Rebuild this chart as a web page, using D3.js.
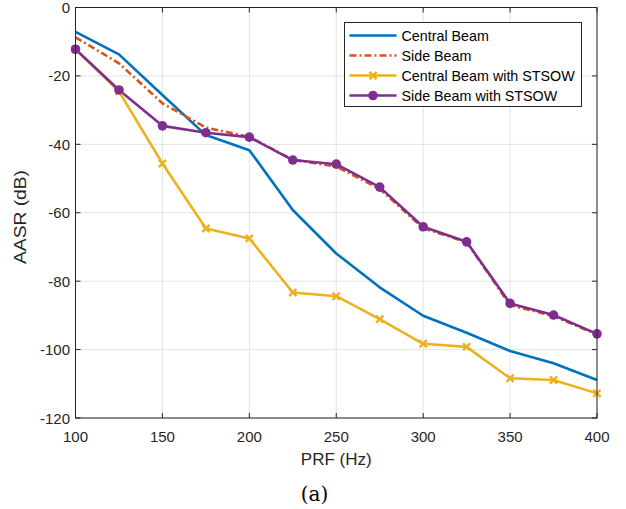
<!DOCTYPE html>
<html>
<head>
<meta charset="utf-8">
<script src="https://cdn.jsdelivr.net/npm/d3@7/dist/d3.min.js"></script>
<style>
  html, body { margin: 0; padding: 0; background: #fff; }
  svg { display: block; }
  .tick-lab { font-family: "Liberation Sans", Arial, sans-serif; font-size: 15px; fill: #262626; }
  .ax-title { font-family: "Liberation Sans", Arial, sans-serif; font-size: 17px; fill: #262626; }
  .leg-text { font-family: "Liberation Sans", Arial, sans-serif; font-size: 14.3px; fill: #000; }
  .caption { font-family: "DejaVu Serif", "Liberation Serif", serif; font-size: 20px; fill: #000; }
</style>
</head>
<body>
<div id="chart"></div>
<script>
/* AASR vs PRF — four beams, MATLAB-style axes */

const PRF = [100, 125, 150, 175, 200, 225, 250, 275, 300, 325, 350, 375, 400];
const CENTRAL = [-7.1, -13.7, -25.6, -37.3, -41.7, -59.2, -71.9, -81.8, -90.1, -95.1, -100.4, -104.0, -108.9];
const SIDE = [-8.7, -16.3, -28.0, -35.1, -37.8, -44.5, -46.5, -53.0, -64.5, -68.6, -87.0, -90.2, -95.6];
const CENTRAL_STSOW = [-12.2, -24.5, -45.6, -64.6, -67.5, -83.3, -84.4, -91.1, -98.3, -99.2, -108.4, -108.9, -112.8];
const SIDE_STSOW = [-12.2, -24.1, -34.6, -36.6, -37.9, -44.6, -45.8, -52.5, -64.1, -68.5, -86.5, -89.9, -95.4];
const SERIES_NAMES = ['Central Beam', 'Side Beam', 'Central Beam with STSOW', 'Side Beam with STSOW'];
const X_TICKS = [100, 150, 200, 250, 300, 350, 400];
const Y_TICKS = [0, -20, -40, -60, -80, -100, -120];

const W = 626, H = 509;
const M = { left: 75.5, right: 29, top: 7.5, bottom: 91 };
const INK = '#262626';
const GRID = '#e3e3e3';

const series = [
  { name: SERIES_NAMES[0], vals: CENTRAL, color: '#0072BD', dash: null, marker: null },
  { name: SERIES_NAMES[1], vals: SIDE, color: '#D95319', dash: '7,3,2,3', marker: null },
  { name: SERIES_NAMES[2], vals: CENTRAL_STSOW, color: '#EDB120', dash: null, marker: 'x' },
  { name: SERIES_NAMES[3], vals: SIDE_STSOW, color: '#7E2F8E', dash: null, marker: 'o' }
];

const svg = d3.select('#chart').append('svg').attr('width', W).attr('height', H);

const x = d3.scaleLinear().domain([100, 400]).range([M.left, W - M.right]);
const y = d3.scaleLinear().domain([-120, 0]).range([H - M.bottom, M.top]);

/* grid */
svg.append('g').selectAll('line').data(X_TICKS).join('line')
  .attr('x1', d => x(d)).attr('x2', d => x(d))
  .attr('y1', y(0)).attr('y2', y(-120))
  .attr('stroke', GRID).attr('stroke-width', 1);
svg.append('g').selectAll('line').data(Y_TICKS).join('line')
  .attr('x1', x(100)).attr('x2', x(400))
  .attr('y1', d => y(d)).attr('y2', d => y(d))
  .attr('stroke', GRID).attr('stroke-width', 1);

/* lines */
const line = d3.line().x((d, i) => x(PRF[i])).y(d => y(d));
series.forEach(s => {
  svg.append('path').datum(s.vals)
    .attr('d', line)
    .attr('fill', 'none')
    .attr('stroke', s.color)
    .attr('stroke-width', 2.6)
    .attr('stroke-linejoin', 'round')
    .attr('stroke-dasharray', s.dash);
});

function drawMarker(g, kind, cx, cy, color) {
  if (kind === 'o') {
    g.append('circle').attr('cx', cx).attr('cy', cy).attr('r', 4.8).attr('fill', color);
  } else if (kind === 'x') {
    const r = 3.6;
    g.append('path')
      .attr('d', `M${cx - r},${cy - r}L${cx + r},${cy + r}M${cx - r},${cy + r}L${cx + r},${cy - r}`)
      .attr('stroke', color).attr('stroke-width', 2.4).attr('fill', 'none');
  }
}

series.filter(s => s.marker).forEach(s => {
  const g = svg.append('g');
  s.vals.forEach((v, i) => drawMarker(g, s.marker, x(PRF[i]), y(v), s.color));
});

/* axes box with inward ticks on all four sides */
const box = svg.append('g');
box.append('rect')
  .attr('x', x(100)).attr('y', y(0))
  .attr('width', x(400) - x(100)).attr('height', y(-120) - y(0))
  .attr('fill', 'none').attr('stroke', INK).attr('stroke-width', 1);
const TL = 5;
X_TICKS.forEach(t => {
  box.append('line').attr('x1', x(t)).attr('x2', x(t)).attr('y1', y(-120)).attr('y2', y(-120) - TL).attr('stroke', INK);
  box.append('line').attr('x1', x(t)).attr('x2', x(t)).attr('y1', y(0)).attr('y2', y(0) + TL).attr('stroke', INK);
});
Y_TICKS.forEach(t => {
  box.append('line').attr('x1', x(100)).attr('x2', x(100) + TL).attr('y1', y(t)).attr('y2', y(t)).attr('stroke', INK);
  box.append('line').attr('x1', x(400)).attr('x2', x(400) - TL).attr('y1', y(t)).attr('y2', y(t)).attr('stroke', INK);
});

svg.append('g').selectAll('text').data(X_TICKS).join('text')
  .attr('class', 'tick-lab')
  .attr('x', d => x(d)).attr('y', y(-120) + 24)
  .attr('text-anchor', 'middle')
  .text(d => d);
svg.append('g').selectAll('text').data(Y_TICKS).join('text')
  .attr('class', 'tick-lab')
  .attr('x', x(100) - 5.5).attr('y', d => y(d) + 5.5)
  .attr('text-anchor', 'end')
  .text(d => String(d));

svg.append('text').attr('class', 'ax-title')
  .attr('x', (x(100) + x(400)) / 2).attr('y', y(-120) + 47)
  .attr('text-anchor', 'middle').text('PRF (Hz)');
svg.append('text').attr('class', 'ax-title')
  .attr('transform', `translate(26,217) rotate(-90)`)
  .attr('text-anchor', 'middle')
  .attr('textLength', 94).attr('lengthAdjust', 'spacingAndGlyphs')
  .text('AASR (dB)');

svg.append('text').attr('class', 'caption')
  .attr('x', 314.5).attr('y', 501)
  .attr('text-anchor', 'middle').text('(a)');

/* legend */
const L = { x: 344.5, y: 22.5, w: 237, h: 84, row: 20 };
const leg = svg.append('g');
leg.append('rect').attr('x', L.x).attr('y', L.y).attr('width', L.w).attr('height', L.h)
  .attr('fill', '#fff').attr('stroke', INK).attr('stroke-width', 1);
series.forEach((s, i) => {
  const cy = L.y + 13 + i * L.row;
  leg.append('line').attr('x1', L.x + 5).attr('x2', L.x + 52).attr('y1', cy).attr('y2', cy)
    .attr('stroke', s.color).attr('stroke-width', 2.6).attr('stroke-dasharray', s.dash);
  if (s.marker) drawMarker(leg, s.marker, L.x + 28.5, cy, s.color);
  leg.append('text').attr('class', 'leg-text')
    .attr('x', L.x + 57).attr('y', cy + 5).text(s.name);
});
</script>
</body>
</html>
